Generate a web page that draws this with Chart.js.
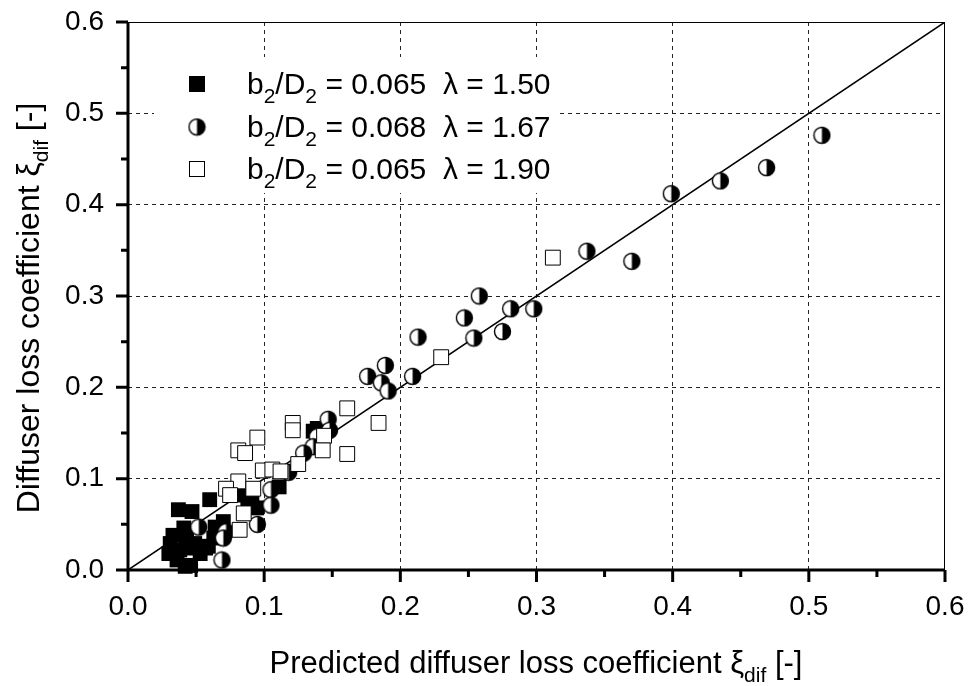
<!DOCTYPE html>
<html><head><meta charset="utf-8">
<script src="https://cdn.jsdelivr.net/npm/chart.js@4.4.1/dist/chart.umd.min.js"></script>
<style>html,body{margin:0;padding:0;background:#fff}canvas{display:block}</style>
</head><body>
<canvas id="c" width="969" height="686"></canvas>
<script>
// ---- data ----
const ratioLabels = ['0.065', '0.068', '0.065'];
const lambdaLabels = ['1.50', '1.67', '1.90'];
const xTitleMain = 'Predicted diffuser loss coefficient ';
const yTitleMain = 'Diffuser loss coefficient ';
const symbolXi = 'ξ';
const subDif = 'dif';
const unitText = ' [-]';

// λ = 1.50 (filled squares)
const s1X = [0.060,0.037,0.047,0.041,0.064,0.070,0.063,0.031,0.033,0.043,0.038,0.030,0.053,0.057,0.044,0.036,0.046,0.042,0.049,0.059,0.088,0.085,0.0945,0.111,0.139,0.136,0.091];
const s1Y = [0.077,0.066,0.064,0.046,0.047,0.053,0.035,0.029,0.038,0.036,0.022,0.018,0.018,0.024,0.024,0.011,0.005,0.004,0.029,0.026,0.077,0.082,0.068,0.091,0.155,0.152,0.082];
// λ = 1.67 (half-filled circles)
const s2X = [0.5096,0.469,0.435,0.399,0.370,0.337,0.258,0.281,0.298,0.247,0.213,0.254,0.275,0.209,0.189,0.176,0.186,0.191,0.147,0.148,0.139,0.136,0.129,0.118,0.105,0.105,0.095,0.072,0.070,0.069,0.052];
const s2Y = [0.476,0.4405,0.426,0.412,0.338,0.349,0.300,0.286,0.286,0.276,0.255,0.254,0.261,0.212,0.224,0.212,0.205,0.196,0.165,0.153,0.146,0.135,0.128,0.107,0.088,0.071,0.050,0.042,0.035,0.011,0.047];
// λ = 1.90 (open squares)
const s3X = [0.312,0.230,0.161,0.184,0.161,0.144,0.143,0.125,0.121,0.121,0.095,0.081,0.086,0.099,0.106,0.112,0.081,0.072,0.075,0.092,0.085,0.082];
const s3Y = [0.342,0.233,0.177,0.161,0.127,0.147,0.131,0.116,0.161,0.153,0.145,0.131,0.128,0.109,0.110,0.108,0.097,0.089,0.082,0.089,0.062,0.044];
// 1:1 line
const fitX = [0, 0.6];
const fitY = [0, 0.6];
const axisMin = 0, axisMax = 0.6, majorStep = 0.1, minorStep = 0.05;

// ---- helpers ----
const FONT = '"Liberation Sans", Arial, sans-serif';
const pts = (xs, ys) => xs.map((v, i) => ({x: v, y: ys[i]}));
function halfMoon(d) {
  const c = document.createElement('canvas');
  c.width = c.height = d + 2;
  const g = c.getContext('2d');
  const cx = (d + 2) / 2, r = d / 2 - 0.5;
  g.beginPath(); g.arc(cx, cx, r, 0, Math.PI * 2); g.fillStyle = '#fff'; g.fill();
  g.beginPath(); g.moveTo(cx, cx - r); g.arc(cx, cx, r, -Math.PI / 2, Math.PI / 2); g.closePath(); g.fillStyle = '#000'; g.fill();
  g.beginPath(); g.arc(cx, cx, r, 0, Math.PI * 2); g.lineWidth = 1.4; g.strokeStyle = '#000'; g.stroke();
  return c;
}
const moon = halfMoon(17);
const moonLegend = halfMoon(17);

function drawRich(ctx, segs, x, y, align) {
  let total = 0;
  segs.forEach(s => { ctx.font = s.size + 'px ' + FONT; s.w = ctx.measureText(s.t).width; total += s.w; });
  let cx = align === 'center' ? x - total / 2 : x;
  ctx.textBaseline = 'alphabetic'; ctx.textAlign = 'left';
  segs.forEach(s => { ctx.font = s.size + 'px ' + FONT; ctx.fillText(s.t, cx, y + (s.dy || 0)); cx += s.w; });
}
const near = (a, b) => Math.abs(a - b) < 1e-9;

const decor = {
  id: 'decor',
  beforeDatasetsDraw(chart) {
    const ctx = chart.ctx, xs = chart.scales.x, ys = chart.scales.y;
    const L = xs.getPixelForValue(axisMin), R = xs.getPixelForValue(axisMax);
    const B = ys.getPixelForValue(axisMin), T = ys.getPixelForValue(axisMax);
    ctx.save();
    ctx.strokeStyle = '#000';
    ctx.lineWidth = 1;
    ctx.beginPath(); ctx.moveTo(L, T + 0.5); ctx.lineTo(R, T + 0.5); ctx.moveTo(R - 0.5, T); ctx.lineTo(R - 0.5, B); ctx.stroke();
    ctx.lineWidth = 3;
    ctx.beginPath(); ctx.moveTo(L, T); ctx.lineTo(L, B + 1.5); ctx.moveTo(L - 1.5, B); ctx.lineTo(R, B); ctx.stroke();
    const n = Math.round((axisMax - axisMin) / minorStep);
    for (let i = 0; i <= n; i++) {
      const v = axisMin + i * minorStep;
      const major = i % 2 === 0;
      const len = major ? 12 : 7;
      const px = xs.getPixelForValue(v), py = ys.getPixelForValue(v);
      ctx.beginPath();
      ctx.moveTo(px, B); ctx.lineTo(px, B + len);
      ctx.moveTo(L, py); ctx.lineTo(L - len, py);
      ctx.stroke();
    }
    ctx.restore();
  },
  afterDatasetsDraw(chart) {
    const ctx = chart.ctx;
    ctx.save();
    // legend
    ctx.fillStyle = '#fff';
    ctx.fillRect(154, 57, 406, 136);
    const rows = [84, 127, 169];
    const mx = 197;
    ctx.fillStyle = '#000';
    ctx.fillRect(mx - 8, rows[0] - 8, 16, 16);
    ctx.drawImage(moonLegend, mx - moonLegend.width / 2, rows[1] - moonLegend.height / 2);
    ctx.fillStyle = '#fff'; ctx.fillRect(mx - 8, rows[2] - 8, 16, 16);
    ctx.strokeStyle = '#000'; ctx.lineWidth = 1; ctx.strokeRect(mx - 7.5, rows[2] - 7.5, 15, 15);
    ctx.fillStyle = '#000';
    rows.forEach((ry, i) => {
      drawRich(ctx, [
        {t: 'b', size: 30}, {t: '2', size: 21, dy: 9}, {t: '/D', size: 30}, {t: '2', size: 21, dy: 9},
        {t: ' = ' + ratioLabels[i] + '  λ = ' + lambdaLabels[i], size: 30}
      ], 247, ry + 10, 'left');
    });
    // axis titles
    drawRich(ctx, [{t: xTitleMain + symbolXi, size: 31}, {t: subDif, size: 21, dy: 9}, {t: unitText, size: 31}], 536, 673, 'center');
    ctx.save();
    ctx.translate(39, 308);
    ctx.rotate(-Math.PI / 2);
    drawRich(ctx, [{t: yTitleMain + symbolXi, size: 32}, {t: subDif, size: 21, dy: 9}, {t: unitText, size: 32}], 0, 0, 'center');
    ctx.restore();
    ctx.restore();
  }
};

const gridColor = c => (c.tick && (near(c.tick.value, axisMin) || near(c.tick.value, axisMax))) ? 'rgba(0,0,0,0)' : '#222';
const tickFmt = v => Number(v).toFixed(1);

new Chart(document.getElementById('c'), {
  type: 'scatter',
  data: {
    datasets: [
      {label: 'λ = ' + lambdaLabels[0], data: pts(s1X, s1Y), pointStyle: 'rect', pointRadius: 10.5, backgroundColor: '#000', borderColor: '#000', borderWidth: 0, order: 3, clip: false},
      {label: 'λ = ' + lambdaLabels[1], data: pts(s2X, s2Y), pointStyle: moon, pointRadius: 9, order: 2, clip: false},
      {label: 'λ = ' + lambdaLabels[2], data: pts(s3X, s3Y), pointStyle: 'rect', pointRadius: 10.5, backgroundColor: '#fff', borderColor: '#000', borderWidth: 1, order: 1, clip: false},
      {label: 'fit', data: pts(fitX, fitY), showLine: true, borderColor: '#000', borderWidth: 1.5, pointRadius: 0, order: 4}
    ]
  },
  options: {
    responsive: false,
    animation: false,
    events: [],
    devicePixelRatio: 1,
    layout: {padding: {left: 0, top: 22, right: 24, bottom: 0}},
    plugins: {legend: {display: false}, tooltip: {enabled: false}},
    scales: {
      x: {
        type: 'linear', min: axisMin, max: axisMax,
        afterFit: s => { s.height = 116; s.paddingLeft = 0; s.paddingRight = 0; },
        ticks: {stepSize: majorStep, callback: tickFmt, color: '#000', font: {family: FONT, size: 28}, padding: 20, maxRotation: 0},
        grid: {color: gridColor, lineWidth: 1, drawTicks: false},
        border: {display: false, dash: [4, 4]}
      },
      y: {
        type: 'linear', min: axisMin, max: axisMax,
        afterFit: s => { s.width = 128; s.paddingTop = 0; s.paddingBottom = 0; },
        ticks: {stepSize: majorStep, callback: tickFmt, color: '#000', font: {family: FONT, size: 28}, padding: 24},
        grid: {color: gridColor, lineWidth: 1, drawTicks: false},
        border: {display: false, dash: [4, 4]}
      }
    }
  },
  plugins: [decor]
});
</script>
</body></html>
